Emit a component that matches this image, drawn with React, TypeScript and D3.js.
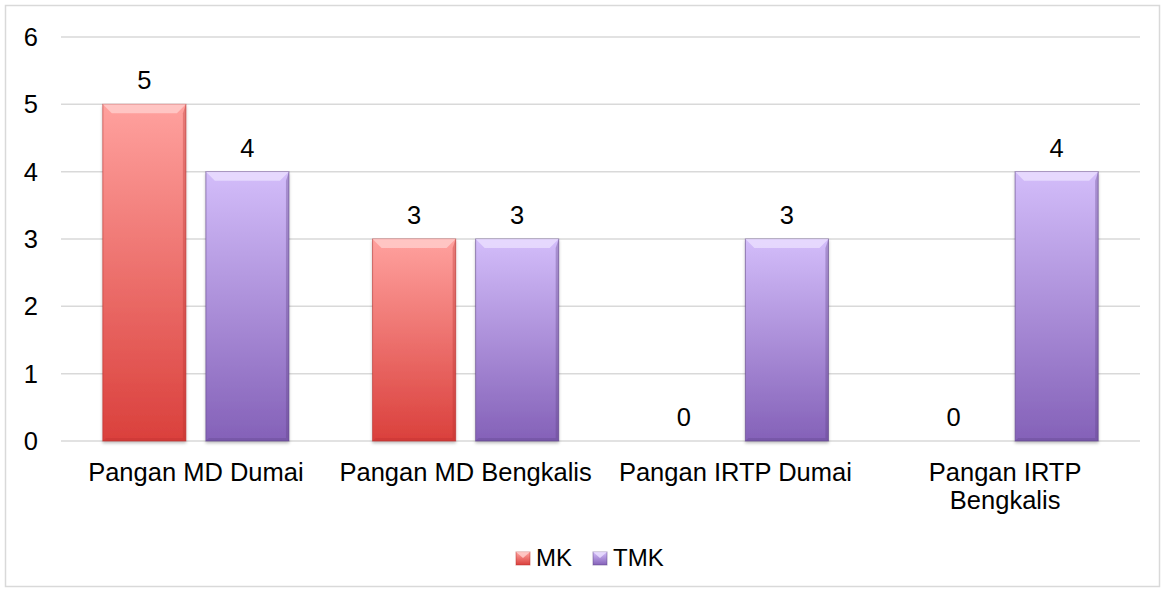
import * as d3 from "d3";
import { useEffect, useRef } from "react";

const categories = ["Pangan MD Dumai", "Pangan MD Bengkalis", "Pangan IRTP Dumai", "Pangan IRTP Bengkalis"];
const seriesNames = ["MK", "TMK"];
const mkValues = [5, 3, 0, 0];
const tmkValues = [4, 3, 3, 4];
const yTicks = [0, 1, 2, 3, 4, 5, 6];

const colors = {
  MK: { top: "#ffa19e", bottom: "#da403c", edge: "#b8302d", light: "#ffd2d0" },
  TMK: { top: "#d3bdfa", bottom: "#8461b8", edge: "#5e4386", light: "#ece2ff" },
};

const App = () => {
  const ref = useRef<SVGSVGElement>(null);

  useEffect(() => {
    const svg = d3.select(ref.current);
    svg.selectAll("*").remove();

    const W = 1165, H = 592;
    const margin = { top: 37, right: 25, bottom: 151, left: 61 };
    const font = "'Liberation Sans', Arial, sans-serif";
    const fs = 25.5;

    svg.append("rect")
      .attr("x", 5.5).attr("y", 5.5).attr("width", W - 11).attr("height", H - 11)
      .attr("fill", "#fff").attr("stroke", "#d9d9d9").attr("stroke-width", 1.5);

    const defs = svg.append("defs");
    seriesNames.forEach((s) => {
      const c = colors[s];
      const g = defs.append("linearGradient").attr("id", "grad-" + s)
        .attr("x1", 0).attr("y1", 0).attr("x2", 0).attr("y2", 1);
      g.append("stop").attr("offset", "0%").attr("stop-color", c.top);
      g.append("stop").attr("offset", "100%").attr("stop-color", c.bottom);
    });
    const sh = defs.append("filter").attr("id", "shadow").attr("x", "-10%").attr("y", "-10%").attr("width", "120%").attr("height", "120%");
    sh.append("feDropShadow").attr("dx", 0).attr("dy", 2).attr("stdDeviation", 1.5).attr("flood-color", "#000").attr("flood-opacity", 0.25);

    const x0 = d3.scaleBand().domain(categories).range([margin.left, W - margin.right]).paddingInner(0.31).paddingOuter(0.155);
    const x1 = d3.scaleBand().domain(seriesNames).range([0, x0.bandwidth()]).paddingInner(0.194);
    const y = d3.scaleLinear().domain([0, 6]).range([H - margin.bottom, margin.top]);

    // gridlines
    svg.append("g").selectAll("line").data(yTicks).join("line")
      .attr("x1", margin.left).attr("x2", W - margin.right)
      .attr("y1", (d) => y(d)).attr("y2", (d) => y(d))
      .attr("stroke", "#d9d9d9").attr("stroke-width", 1.5);

    // y tick labels
    svg.append("g").selectAll("text").data(yTicks).join("text")
      .attr("x", 38).attr("y", (d) => y(d)).attr("dy", "0.35em")
      .attr("text-anchor", "end").attr("font-family", font).attr("font-size", fs).attr("fill", "#000")
      .text((d) => d);

    const data = categories.flatMap((c, i) => [
      { cat: c, s: "MK", v: mkValues[i] },
      { cat: c, s: "TMK", v: tmkValues[i] },
    ]);

    const bars = svg.append("g").selectAll("g").data(data.filter((d) => d.v > 0)).join("g");
    bars.each(function (d) {
      const g = d3.select(this);
      const c = colors[d.s];
      const bx = x0(d.cat) + x1(d.s);
      const bw = x1.bandwidth();
      const by = y(d.v);
      const bh = y(0) - by;
      g.append("rect").attr("x", bx).attr("y", by).attr("width", bw).attr("height", bh)
        .attr("fill", `url(#grad-${d.s})`).attr("stroke", c.edge).attr("stroke-width", 1).attr("stroke-opacity", 0.6)
        .attr("filter", "url(#shadow)");
      // bevel highlight on top
      const bv = 9;
      g.append("path")
        .attr("d", `M${bx},${by} L${bx + bw},${by} L${bx + bw - bv},${by + bv} L${bx + bv},${by + bv} Z`)
        .attr("fill", c.light).attr("opacity", 0.75);
      // side bevels
      g.append("path")
        .attr("d", `M${bx + bw},${by} L${bx + bw},${by + bh} L${bx + bw - 3},${by + bh - 3} L${bx + bw - 3},${by + bv}Z`)
        .attr("fill", c.edge).attr("opacity", 0.35);
      g.append("path")
        .attr("d", `M${bx},${by + bh} L${bx + bw},${by + bh} L${bx + bw - 3},${by + bh - 3} L${bx + 3},${by + bh - 3}Z`)
        .attr("fill", c.edge).attr("opacity", 0.3);
    });

    // data labels
    svg.append("g").selectAll("text").data(data).join("text")
      .attr("x", (d) => x0(d.cat) + x1(d.s) + x1.bandwidth() / 2)
      .attr("y", (d) => y(d.v) - 15)
      .attr("text-anchor", "middle").attr("font-family", font).attr("font-size", fs).attr("fill", "#000")
      .text((d) => d.v);

    // category labels with wrapping
    const step = x0.step();
    const catG = svg.append("g");
    categories.forEach((c) => {
      const cx = x0(c) + x0.bandwidth() / 2;
      const t = catG.append("text")
        .attr("x", cx).attr("y", 481)
        .attr("text-anchor", "middle").attr("font-family", font).attr("font-size", fs).attr("fill", "#000");
      t.text(c);
      const len = (t.node() as SVGTextElement).getComputedTextLength();
      if (len > step) {
        const words = c.split(" ");
        const l1 = words.slice(0, words.length - 1).join(" ");
        const l2 = words[words.length - 1];
        t.text(null);
        t.append("tspan").attr("x", cx).attr("dy", 0).text(l1);
        t.append("tspan").attr("x", cx).attr("dy", 28).text(l2);
      }
    });

    // legend
    const legendItems = [
      { s: "MK", x: 516 },
      { s: "TMK", x: 593 },
    ];
    const lg = svg.append("g");
    legendItems.forEach((it) => {
      const c = colors[it.s];
      lg.append("rect").attr("x", it.x).attr("y", 552).attr("width", 14).attr("height", 13)
        .attr("fill", `url(#grad-${it.s})`).attr("stroke", c.edge).attr("stroke-opacity", 0.5);
      lg.append("path").attr("d", `M${it.x},552 L${it.x + 14},552 L${it.x + 7},558Z`).attr("fill", c.light).attr("opacity", 0.8);
      lg.append("text").attr("x", it.x + 20).attr("y", 566)
        .attr("font-family", font).attr("font-size", 24).attr("fill", "#000").text(it.s);
    });
  }, []);

  return (
    <svg ref={ref} width={1165} height={592} style={{ position: "absolute", left: 0, top: 0 }} />
  );
};

export default App;
